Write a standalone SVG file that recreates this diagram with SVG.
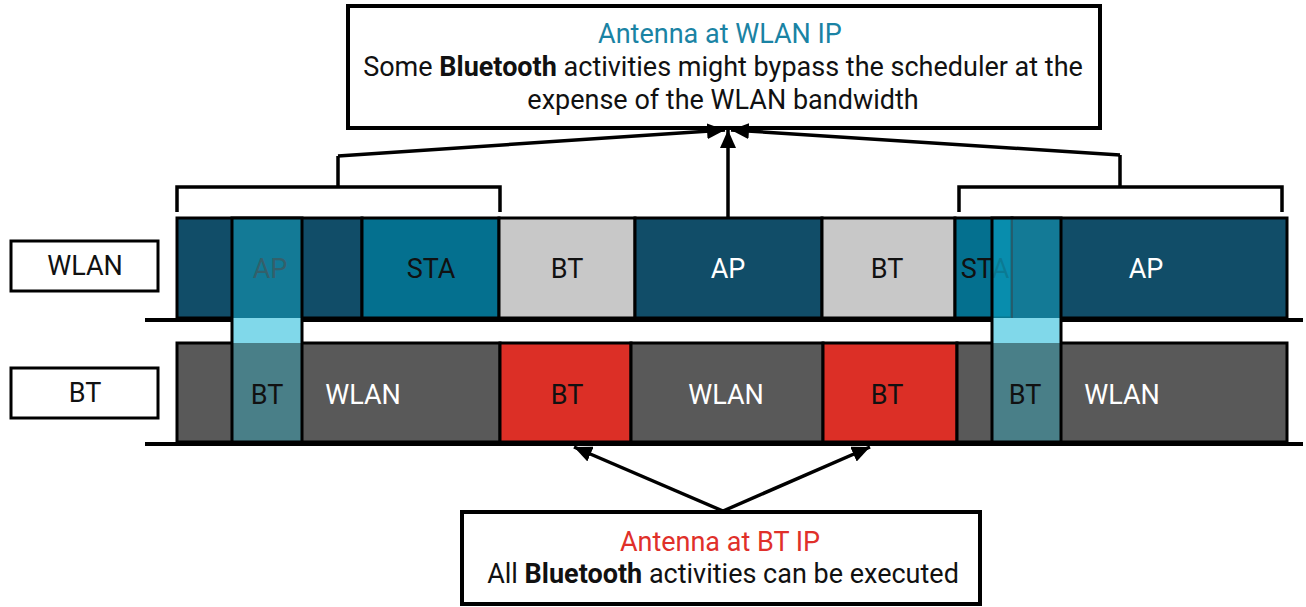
<svg xmlns="http://www.w3.org/2000/svg" width="1306" height="607" viewBox="0 0 1306 607">
  <defs>
    <marker id="head" viewBox="0 0 18 16" refX="18" refY="8" markerWidth="18" markerHeight="16" markerUnits="userSpaceOnUse" orient="auto">
      <path d="M0,0 L18,8 L0,16 Z" fill="#000"/>
    </marker>
    <style>
      text { font-family: Roboto, "Liberation Sans", sans-serif; font-size: 27px; text-anchor: middle; }
      .box { fill: #fff; stroke: #000; stroke-width: 4; }
      .lbl { fill: #fff; stroke: #000; stroke-width: 3; }
      .cell { stroke: #000; stroke-width: 3; }
      .navy { fill: #114d68; }
      .teal { fill: #04708f; }
      .light { fill: #c8c8c8; }
      .grey { fill: #595959; }
      .red { fill: #dc2f26; }
      .w { fill: #fff; }
      .k { fill: #111; }
      .dim { fill: #33606b; }
      .wire { fill: none; stroke: #000; stroke-width: 3.5; }
      .arrow { fill: none; stroke: #000; stroke-width: 3.5; marker-end: url(#head); }
      .base { stroke: #000; stroke-width: 4; }
    </style>
  </defs>

  <!-- explanation boxes -->
  <g id="wlan-ip-note">
    <rect class="box" x="348" y="6" width="752" height="122"/>
    <text x="720" y="43" fill="#1a83a4">Antenna at WLAN IP</text>
    <text x="723" y="76" fill="#111">Some <tspan font-weight="bold">Bluetooth</tspan> activities might bypass the scheduler at the</text>
    <text x="723" y="109" fill="#111">expense of the WLAN bandwidth</text>
  </g>

  <g id="bt-ip-note">
    <rect class="box" x="462" y="512" width="518" height="92"/>
    <text x="720" y="551" fill="#e0302a">Antenna at BT IP</text>
    <text x="723" y="583" fill="#111">All <tspan font-weight="bold">Bluetooth</tspan> activities can be executed</text>
  </g>

  <!-- row labels -->
  <g id="label-wlan">
    <rect class="lbl" x="11" y="241" width="147" height="50"/>
    <text x="85" y="275" class="k">WLAN</text>
  </g>
  <g id="label-bt">
    <rect class="lbl" x="11" y="368" width="147" height="50"/>
    <text x="85" y="402" class="k">BT</text>
  </g>

  <!-- WLAN timeline -->
  <g id="wlan-row">
    <rect class="cell navy" x="177" y="218" width="185" height="100"/>
    <rect class="cell teal" x="362" y="218" width="137" height="100"/>
    <rect class="cell light" x="499" y="218" width="136" height="100"/>
    <rect class="cell navy" x="635" y="218" width="187" height="100"/>
    <rect class="cell light" x="822" y="218" width="133" height="100"/>
    <rect class="cell teal" x="955" y="218" width="57" height="100"/>
    <rect class="cell navy" x="1012" y="218" width="275" height="100"/>
    <text x="431" y="278" class="k">STA</text>
    <text x="567" y="278" class="k">BT</text>
    <text x="728" y="278" class="w">AP</text>
    <text x="887" y="278" class="k">BT</text>
    <text x="985" y="278" class="k">STA</text>
    <text x="1146" y="278" class="w">AP</text>
    <line class="base" x1="145" y1="320" x2="1303" y2="320"/>
  </g>

  <!-- BT timeline -->
  <g id="bt-row">
    <rect class="cell grey" x="177" y="343" width="323" height="99"/>
    <rect class="cell red" x="500" y="343" width="131" height="99"/>
    <rect class="cell grey" x="631" y="343" width="192" height="99"/>
    <rect class="cell red" x="823" y="343" width="134" height="99"/>
    <rect class="cell grey" x="957" y="343" width="330" height="99"/>
    <text x="363" y="404" class="w">WLAN</text>
    <text x="567" y="404" class="k">BT</text>
    <text x="726" y="404" class="w">WLAN</text>
    <text x="887" y="404" class="k">BT</text>
    <text x="1122" y="404" class="w">WLAN</text>
    <line class="base" x1="145" y1="444" x2="1303" y2="444"/>
  </g>

  <!-- bypass windows spanning both rows -->
  <g id="bypass-1">
    <rect x="232" y="218" width="70" height="100" fill="#137a96"/>
    <rect x="232" y="318" width="70" height="25" fill="#80d8ea"/>
    <rect x="232" y="343" width="70" height="99" fill="#497f88"/>
    <text x="270" y="278" class="dim">AP</text>
    <text x="267" y="404" class="k">BT</text>
    <rect x="232" y="218" width="70" height="224" fill="none" stroke="#000" stroke-width="3"/>
  </g>
  <g id="bypass-2">
    <rect x="992" y="218" width="20" height="100" fill="#0a95b4" fill-opacity="0.8"/>
    <rect x="1012" y="218" width="49" height="100" fill="#137a96"/>
    <line x1="1012" y1="218" x2="1012" y2="318" stroke="#2c5560" stroke-width="1.5"/>
    <rect x="992" y="318" width="69" height="25" fill="#80d8ea"/>
    <rect x="992" y="343" width="69" height="99" fill="#497f88"/>
    <text x="1025" y="404" class="k">BT</text>
    <rect x="992" y="218" width="69" height="224" fill="none" stroke="#000" stroke-width="3"/>
  </g>

  <!-- connectors -->
  <g id="connectors">
    <path class="wire" d="M177,212 V187 H500 V212 M338,187 V156"/>
    <path class="wire" d="M959,212 V187 H1282 V212 M1120,187 V155"/>
    <line class="arrow" x1="338" y1="156" x2="725" y2="130"/>
    <line class="arrow" x1="1120" y1="155" x2="731" y2="130"/>
    <line class="arrow" x1="728" y1="218" x2="728" y2="130"/>
    <line class="arrow" x1="723" y1="511" x2="574" y2="447"/>
    <line class="arrow" x1="723" y1="511" x2="870" y2="447"/>
  </g>
</svg>
